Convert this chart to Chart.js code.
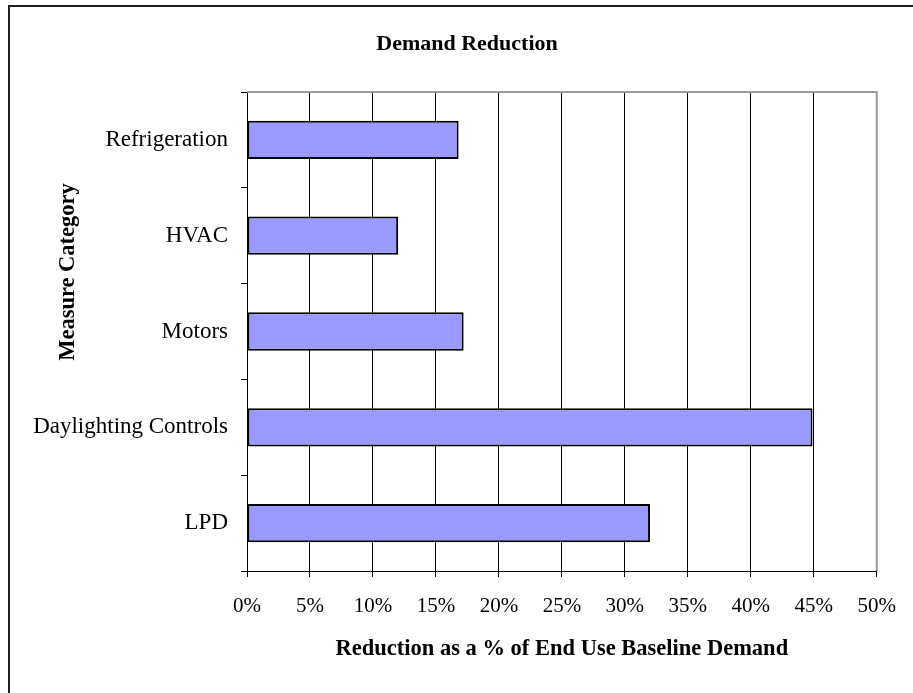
<!DOCTYPE html>
<html>
<head>
<meta charset="utf-8">
<script src="https://cdn.jsdelivr.net/npm/chart.js@4/dist/chart.umd.min.js"></script>
<style>
  html, body { margin: 0; padding: 0; background: #fff; }
  canvas { display: block; }
</style>
</head>
<body>
<canvas id="chart" width="913" height="693"></canvas>
<script>
// Measure categories, listed top to bottom
const categories = ['Refrigeration', 'HVAC', 'Motors', 'Daylighting Controls', 'LPD'];
// Demand reduction as a percent of end-use baseline demand
const reductionPct = [16.8, 12.0, 17.2, 44.9, 32.0];
// Percent ticks on the value axis
const xTickValues = [0, 5, 10, 15, 20, 25, 30, 35, 40, 45, 50];

const chartTitle = 'Demand Reduction';
const xAxisTitle = 'Reduction as a % of End Use Baseline Demand';
const yAxisTitle = 'Measure Category';

const SERIF = '"Liberation Serif", "Times New Roman", Times, serif';

// Outer frame, plot frame and the three captions
const captions = {
  id: 'captions',
  beforeDraw(chart) {
    const { ctx, width, height } = chart;
    ctx.save();
    ctx.fillStyle = '#ffffff';
    ctx.fillRect(0, 0, width, height);
    ctx.fillStyle = '#1e1e1e';
    ctx.fillRect(8, 5, 2, height - 5);
    ctx.fillRect(8, 5, width - 8, 2);
    ctx.restore();
  },
  afterDraw(chart) {
    const { ctx, chartArea: a } = chart;
    ctx.save();
    ctx.strokeStyle = '#9a9a9a';
    ctx.lineWidth = 2;
    ctx.beginPath();
    ctx.moveTo(a.left, a.top);
    ctx.lineTo(a.right, a.top);
    ctx.lineTo(a.right, a.bottom);
    ctx.stroke();

    ctx.fillStyle = '#000';
    ctx.textAlign = 'center';
    ctx.textBaseline = 'alphabetic';
    ctx.font = 'bold 22px ' + SERIF;
    ctx.fillText(chartTitle, 467, a.top - 42);

    ctx.font = 'bold 22.5px ' + SERIF;
    ctx.fillText(xAxisTitle, (a.left + a.right) / 2, a.bottom + 84);

    ctx.translate(74, a.top + 180);
    ctx.rotate(-Math.PI / 2);
    ctx.fillText(yAxisTitle, 0, 0);
    ctx.restore();
  }
};

new Chart(document.getElementById('chart'), {
  type: 'bar',
  data: {
    labels: categories,
    datasets: [{
      data: reductionPct,
      backgroundColor: '#9999ff',
      borderColor: '#000000',
      borderWidth: 2,
      borderSkipped: false,
      categoryPercentage: 1.0,
      barPercentage: 0.4
    }]
  },
  options: {
    indexAxis: 'y',
    responsive: false,
    animation: false,
    devicePixelRatio: 1,
    layout: { padding: { top: 92, left: 0, right: 32, bottom: 72 } },
    plugins: {
      legend: { display: false },
      title: { display: false },
      tooltip: { enabled: false }
    },
    scales: {
      x: {
        type: 'linear',
        min: 0,
        max: 50,
        afterBuildTicks: (scale) => { scale.ticks = xTickValues.map(v => ({ value: v })); },
        afterFit: (scale) => { scale.height = 50; },
        grid: {
          color: '#000000',
          lineWidth: 1,
          drawTicks: true,
          tickLength: 6,
          tickColor: '#000000'
        },
        border: { display: true, color: '#000000', width: 1 },
        ticks: {
          padding: 17,
          color: '#000000',
          font: { family: SERIF, size: 21 },
          maxRotation: 0,
          callback: (v) => v + '%'
        }
      },
      y: {
        type: 'category',
        offset: true,
        afterFit: (scale) => { scale.width = 247; },
        grid: {
          offset: true,
          drawOnChartArea: false,
          drawTicks: true,
          tickLength: 6,
          color: '#000000',
          tickColor: '#000000'
        },
        border: { display: true, color: '#000000', width: 1 },
        ticks: {
          padding: 13,
          color: '#000000',
          font: { family: SERIF, size: 23 }
        }
      }
    }
  },
  plugins: [captions]
});
</script>
</body>
</html>
